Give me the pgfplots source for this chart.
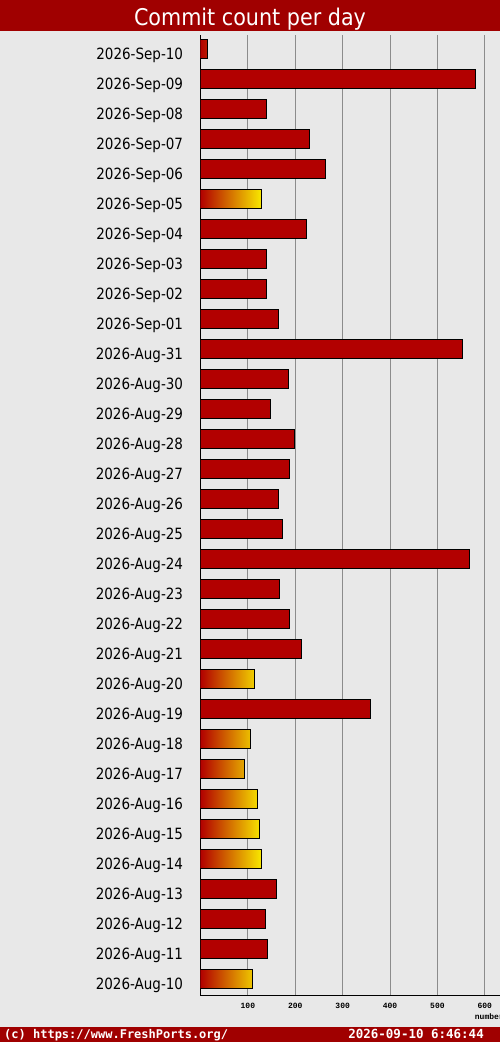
\documentclass[border=0pt]{standalone}
\usepackage{fontspec}
\setmainfont{DejaVu Sans}
\newfontfamily\titlefont[FakeStretch=0.9]{DejaVu Sans}
\newfontfamily\labfont[FakeStretch=0.87]{DejaVu Sans}
\newfontfamily\footfont{DejaVu Sans Mono}
\newfontfamily\tickfont{Liberation Mono}
\usepackage{pgfplots}
\pgfplotsset{compat=1.18}
\usepackage{pgfplotstable}

\definecolor{bgray}{RGB}{232,232,232}
\definecolor{hdrred}{RGB}{160,0,0}
\definecolor{barred}{RGB}{178,0,0}
\definecolor{gridgray}{RGB}{140,140,140}
\definecolor{gold}{RGB}{248,232,0}
\definecolor{midorange}{RGB}{222,128,0}

% idx: 0 = 2026-Aug-10 ... 31 = 2026-Sep-10
\pgfplotstableread{
idx val
30 580
29 139
28 229
27 263
25 223
24 139
23 139
22 164
21 552
20 185
19 147
18 198
17 187
16 164
15 172
14 567
13 166
12 187
11 213
9 358
3 160
2 137
1 141
}\solidtab

\pgfplotstableread{
idx val
31 14
26 128
10 115
8 105
7 92
6 120
5 124
4 128
0 109
}\gradtab

\begin{document}
\begin{tikzpicture}
\useasboundingbox (0,0) rectangle (500bp,1042bp);
\fill[bgray] (0,0) rectangle (500bp,1042bp);
\fill[hdrred] (0,1011bp) rectangle (500bp,1042bp);
\node[anchor=base, inner sep=0pt, text=white] at (250bp,1016.3bp) {\titlefont\fontsize{23bp}{24bp}\selectfont Commit count per day};
\fill[hdrred] (0,0) rectangle (500bp,15.3bp);
\node[anchor=base west, inner sep=0pt, text=white] at (4bp,3.6bp) {\footfont\bfseries\fontsize{12bp}{13bp}\selectfont (c) https://www.FreshPorts.org/};
\node[anchor=base east, inner sep=0pt, text=white] at (484bp,3.6bp) {\footfont\bfseries\fontsize{12.5bp}{13bp}\selectfont 2026-09-10 6:46:44};

\begin{axis}[
  at={(200.5bp,46bp)}, anchor=south west,
  scale only axis, width=299.5bp, height=961bp,
  xmin=0, xmax=632, ymin=-0.5667, ymax=31.4667,
  xbar, bar width=19bp, bar shift=0pt,
  axis x line*=bottom, axis y line*=left,
  axis line style={-, black, line width=1bp},
  xtick={100,200,300,400,500,600},
  xmajorgrids, major grid style={gridgray, line width=1bp},
  xtick style={draw=none}, ytick style={draw=none},
  xticklabel style={font=\tickfont\bfseries\fontsize{8bp}{9bp}\selectfont, anchor=north, inner sep=0pt, yshift=-7bp},
  /pgf/number format/assume math mode=true,
  ytick={0,...,31},
  yticklabels={2026-Aug-10,2026-Aug-11,2026-Aug-12,2026-Aug-13,2026-Aug-14,2026-Aug-15,2026-Aug-16,2026-Aug-17,2026-Aug-18,2026-Aug-19,2026-Aug-20,2026-Aug-21,2026-Aug-22,2026-Aug-23,2026-Aug-24,2026-Aug-25,2026-Aug-26,2026-Aug-27,2026-Aug-28,2026-Aug-29,2026-Aug-30,2026-Aug-31,2026-Sep-01,2026-Sep-02,2026-Sep-03,2026-Sep-04,2026-Sep-05,2026-Sep-06,2026-Sep-07,2026-Sep-08,2026-Sep-09,2026-Sep-10},
  yticklabel style={font=\labfont\fontsize{15.5bp}{16bp}\selectfont, anchor=base east, inner sep=0pt, xshift=-13bp, yshift=-10.5bp},
]
\addplot[fill=barred, draw=black, line width=1bp] table[x=val,y=idx] {\solidtab};
\addplot[draw=black, line width=1bp, left color=barred, middle color=midorange, right color=gold] table[x=val,y=idx] {\gradtab};
\end{axis}

\begin{scope}
\clip (0,0) rectangle (500bp,1042bp);
\node[anchor=base west, inner sep=0pt] at (474.7bp,23bp) {\tickfont\bfseries\fontsize{8bp}{9bp}\selectfont number};
\end{scope}
\end{tikzpicture}
\end{document}
